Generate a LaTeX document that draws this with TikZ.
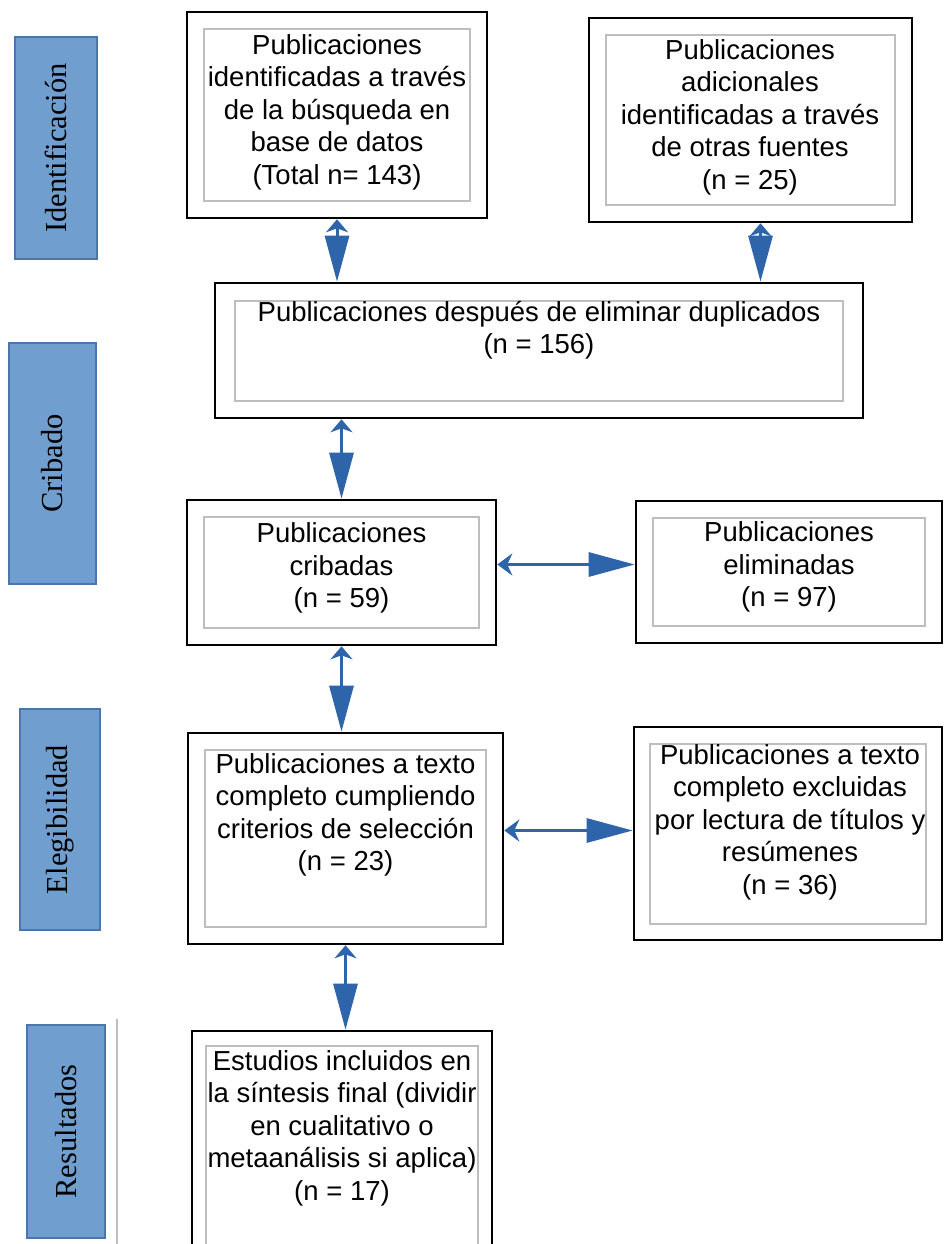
\documentclass[tikz,border=0pt]{standalone}
\usepackage{fontspec}
\setmainfont{Liberation Sans}
\newfontfamily\stagefont{Liberation Serif}
\usetikzlibrary{arrows.meta}
\definecolor{stagefill}{RGB}{112,158,207}
\definecolor{stageedge}{RGB}{74,118,172}
\definecolor{flowblue}{RGB}{46,100,170}
\definecolor{innergray}{RGB}{190,190,190}

\begin{document}
\begin{tikzpicture}[x=1pt, y=-1pt,
  outerbox/.style={draw=black, line width=2.6pt, inner sep=0pt},
  innerbox/.style={draw=innergray, line width=2pt, inner sep=0pt},
  txt/.style={align=center, inner sep=0pt, font=\fontsize{27.5}{32.5}\selectfont},
  stage/.style={fill=stagefill, draw=stageedge, line width=1.2pt, rotate=90,
    inner sep=0pt, font=\stagefont\fontsize{30.5}{32}\selectfont},
  flow/.style={draw=flowblue, line width=3pt,
    {Stealth[length=13pt,width=22pt,inset=4pt]}-{Triangle[length=46pt,width=24pt]}},
  flowh/.style={draw=flowblue, line width=3pt,
    {Stealth[length=15pt,width=22pt,inset=5pt]}-{Triangle[length=46pt,width=24pt]}}]
\useasboundingbox (0,0) rectangle (944,1244);

% stages
\node[stage, minimum width=222pt, minimum height=82pt] (ident) at (56,148) {Identificación};
\node[stage, minimum width=241pt, minimum height=87pt] (crib)  at (52.5,463.5) {Cribado};
\node[stage, minimum width=221pt, minimum height=80pt] (eleg)  at (60,819.5) {Elegibilidad};
\node[stage, minimum width=213pt, minimum height=78pt] (result) at (66,1131.5) {Resultados};
\draw[innergray, line width=2pt] (117,1019) -- (117,1244);

% identificacion
\node[outerbox, minimum width=300pt, minimum height=206pt] (pubdb) at (337,115) {};
\node[innerbox, minimum width=266pt, minimum height=172pt] at (pubdb) {};
\node[txt] at (337,112) {Publicaciones\\identificadas a través\\de la búsqueda en\\base de datos\\(Total n= 143)};

\node[outerbox, minimum width=323pt, minimum height=204pt] (pubotras) at (750.5,120) {};
\node[innerbox, minimum width=289pt, minimum height=170pt] at (pubotras) {};
\node[txt] at (750,117) {Publicaciones\\adicionales\\identificadas a través\\de otras fuentes\\(n = 25)};

% cribado
\node[outerbox, minimum width=648pt, minimum height=135pt] (pubdup) at (539,350.5) {};
\node[innerbox, minimum width=608pt, minimum height=100pt] at (pubdup) {};
\node[txt] at (539,330) {Publicaciones después de eliminar duplicados\\(n = 156)};

\node[outerbox, minimum width=309pt, minimum height=145pt] (pubcrib) at (341.5,572.5) {};
\node[innerbox, minimum width=275pt, minimum height=111pt] at (pubcrib) {};
\node[txt] at (341.5,568) {Publicaciones\\cribadas\\(n = 59)};

\node[outerbox, minimum width=306pt, minimum height=142pt] (pubelim) at (789,572) {};
\node[innerbox, minimum width=272pt, minimum height=108pt] at (pubelim) {};
\node[txt] at (789,567) {Publicaciones\\eliminadas\\(n = 97)};

% elegibilidad
\node[outerbox, minimum width=315pt, minimum height=211pt] (pubtexto) at (345.5,838.5) {};
\node[innerbox, minimum width=281pt, minimum height=177pt] at (pubtexto) {};
\node[txt] at (345.5,815) {Publicaciones a texto\\completo cumpliendo\\criterios de selección\\(n = 23)};

\node[outerbox, minimum width=308pt, minimum height=213pt] (pubexcl) at (788,833.5) {};
\node[innerbox, minimum width=276pt, minimum height=180pt] at (pubexcl) {};
\node[txt] at (790,822) {Publicaciones a texto\\completo excluidas\\por lectura de títulos y\\resúmenes\\(n = 36)};

% resultados
\node[outerbox, minimum width=300pt, minimum height=229pt] (estudios) at (342,1145.5) {};
\node[innerbox, minimum width=272pt, minimum height=199pt] at (estudios) {};
\node[txt] at (342,1128) {Estudios incluidos en\\la síntesis final (dividir\\en cualitativo o\\metaanálisis si aplica)\\(n = 17)};

% arrows
\draw[flow] (pubdb.south) -- (pubdb.south |- pubdup.north);
\draw[flow] ([xshift=10pt]pubotras.south) -- ([xshift=10pt]pubotras.south |- pubdup.north);
\draw[flow] (pubcrib.north |- pubdup.south) -- (pubcrib.north);
\draw[flowh] ([yshift=8pt]pubcrib.east) -- ([yshift=8pt]pubcrib.east -| pubelim.west);
\draw[flow] (pubcrib.south) -- (pubcrib.south |- pubtexto.north);
\draw[flowh] ([yshift=8pt]pubtexto.east) -- ([yshift=8pt]pubtexto.east -| pubexcl.west);
\draw[flow] (pubtexto.south) -- (pubtexto.south |- estudios.north);
\end{tikzpicture}
\end{document}
